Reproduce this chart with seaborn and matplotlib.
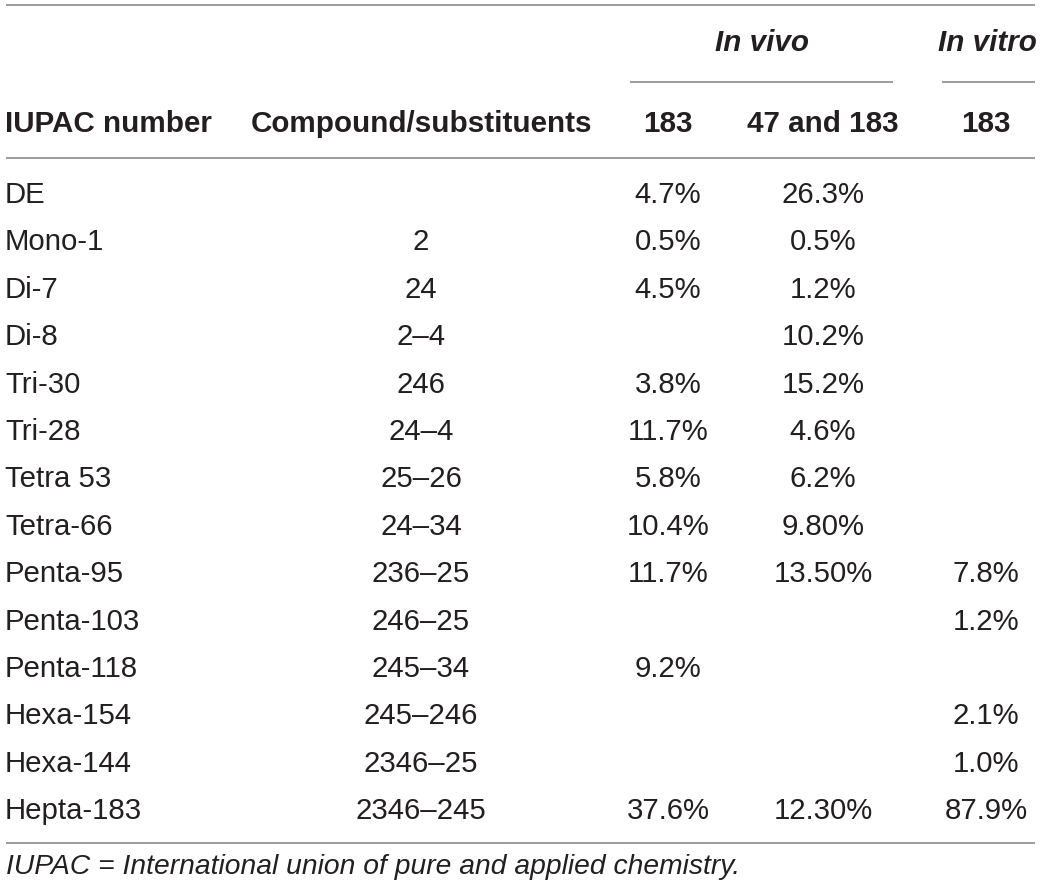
import numpy as np
import pandas as pd
import matplotlib
matplotlib.use("Agg")
import matplotlib.pyplot as plt
import seaborn as sns

#DATA
iupac = ["DE", "Mono-1", "Di-7", "Di-8", "Tri-30", "Tri-28", "Tetra 53", "Tetra-66",
         "Penta-95", "Penta-103", "Penta-118", "Hexa-154", "Hexa-144", "Hepta-183"]
compound = ["", "2", "24", "2–4", "246", "24–4", "25–26", "24–34",
            "236–25", "246–25", "245–34", "245–246", "2346–25", "2346–245"]
vivo_183 = ["4.7%", "0.5%", "4.5%", "", "3.8%", "11.7%", "5.8%", "10.4%",
            "11.7%", "", "9.2%", "", "", "37.6%"]
vivo_47_183 = ["26.3%", "0.5%", "1.2%", "10.2%", "15.2%", "4.6%", "6.2%", "9.80%",
               "13.50%", "", "", "", "", "12.30%"]
vitro_183 = ["", "", "", "", "", "", "", "",
             "7.8%", "1.2%", "", "2.1%", "1.0%", "87.9%"]
headers = ["IUPAC number", "Compound/substituents", "183", "47 and 183", "183"]
groups = ["In vivo", "In vitro"]
footnote = "IUPAC = International union of pure and applied chemistry."

table = pd.DataFrame({"iupac": iupac, "compound": compound, "vivo_183": vivo_183,
                      "vivo_47_183": vivo_47_183, "vitro_183": vitro_183})

#STYLE
sns.set_theme(style="white")
plt.rcParams['font.family'] = ['Liberation Sans', 'DejaVu Sans']
txt = "#231f20"
rule = "#8a8a8a"
fs = 21.2
fs_head = 21.3
fs_note = 20.3

fig = plt.figure(figsize=(10.4, 8.93), dpi=100)
ax = fig.add_axes([0, 0, 1, 1])
ax.set_xlim(0, 1040)
ax.set_ylim(893, 0)
ax.axis("off")

# column anchors (x, alignment)
cols = [(5, "left"), (421, "center"), (668, "center"), (823, "center"), (986, "center")]

# group headers
ax.text(762, 43, groups[0], ha="center", va="center", fontsize=fs_head, fontweight="bold",
        fontstyle="italic", color=txt)
ax.text(987, 43, groups[1], ha="center", va="center", fontsize=fs_head, fontweight="bold",
        fontstyle="italic", color=txt)

# rules
ax.hlines(5, 6, 1035, color=rule, lw=1.2)
ax.hlines(82, 630, 893, color=rule, lw=1.2)
ax.hlines(82, 942, 1035, color=rule, lw=1.2)
ax.hlines(158, 6, 1035, color=rule, lw=1.2)
ax.hlines(843, 6, 1035, color=rule, lw=1.2)

# column headers
for (x, ha), h in zip(cols, headers):
    ax.text(x, 124, h, ha=ha, va="center", fontsize=fs_head, fontweight="bold", color=txt)

# body
row0, step = 195, 47.4
for i, row in table.iterrows():
    y = row0 + i * step
    for (x, ha), val in zip(cols, row.values):
        if val:
            ax.text(x, y, val, ha=ha, va="center", fontsize=fs, color=txt)

ax.text(6, 867, footnote, ha="left", va="center", fontsize=fs_note, fontstyle="italic", color=txt)

fig.savefig("out.png", dpi=100)
